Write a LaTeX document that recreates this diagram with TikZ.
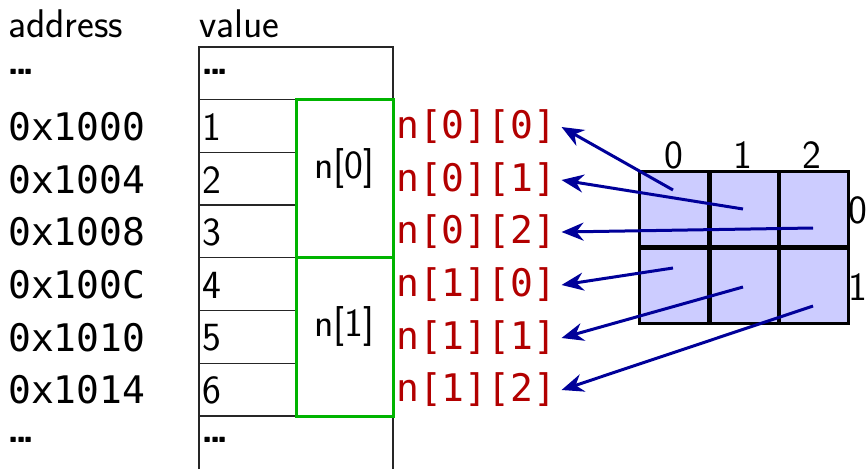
\documentclass[tikz,border=0pt]{standalone}
\usepackage{fontspec}
\setmonofont{DejaVu Sans Mono}
\usetikzlibrary{arrows.meta}
\definecolor{myred}{RGB}{178,0,0}
\definecolor{mygreen}{RGB}{0,180,0}
\definecolor{myblue}{RGB}{0,0,153}
\definecolor{cellfill}{RGB}{204,204,255}
\newcommand{\tightdots}{\textbf{.\kern-0.11em.\kern-0.11em.}}
\begin{document}
\begin{tikzpicture}[x=1pt,y=-1pt,
  sf/.style={font=\fontsize{40}{48}\selectfont\sffamily, inner sep=0pt},
  addr/.style={font=\fontsize{38}{46}\selectfont\ttfamily, inner sep=0pt, anchor=west},
  val/.style={sf, anchor=west},
  elem/.style={font=\fontsize{38}{46}\selectfont\ttfamily, text=myred, inner sep=0pt, anchor=west},
  grp/.style={draw=mygreen, line width=3pt},
  memline/.style={draw=black!85, line width=1.3pt},
  cell/.style={fill=cellfill, minimum width=69.3pt, minimum height=75.5pt, inner sep=0pt},
  ptr/.style={draw=myblue, line width=3pt, -{Stealth[length=22pt,width=18pt]}}
]
\useasboundingbox (0,0) rectangle (866,469);
% headers
\node[val] (haddr) at (8,24) {address};
\node[val] (hval) at (199,24) {value};
% memory column
\draw[memline] (199,469) -- (199,47) -- (393,47) -- (393,469);
\foreach \y in {99.7,152.4,205.1,257.8,310.5,363.2,416} {
  \draw[memline] (199,\y) -- (296,\y);
}
\draw[memline] (296,99.7) -- (393,99.7);
\draw[memline] (296,416) -- (393,416);
% address and value texts
\node[val] (adots1) at (7,72) {\tightdots};
\node[val] (vdots1) at (201,72) {\tightdots};
\node[addr] (a0) at (8,127) {0x1000};
\node[addr] (a1) at (8,180) {0x1004};
\node[addr] (a2) at (8,232) {0x1008};
\node[addr] (a3) at (8,285) {0x100C};
\node[addr] (a4) at (8,338) {0x1010};
\node[addr] (a5) at (8,390) {0x1014};
\node[val] (adots2) at (7,440) {\tightdots};
\node[val] (v0) at (202,127) {1};
\node[val] (v1) at (202,180) {2};
\node[val] (v2) at (202,232) {3};
\node[val] (v3) at (202,285) {4};
\node[val] (v4) at (202,338) {5};
\node[val] (v5) at (202,390) {6};
\node[val] (vdots2) at (201,440) {\tightdots};
% green groups
\draw[grp] (296,99.7) rectangle (393,257.8);
\draw[grp] (296,257.8) rectangle (393,416);
\node[sf] (g0) at (344,168) {n[0]};
\node[sf] (g1) at (344,326) {n[1]};
% red element labels
\node[elem] (l00) at (396,127) {n[0][0]};
\node[elem] (l01) at (396,180) {n[0][1]};
\node[elem] (l02) at (396,232) {n[0][2]};
\node[elem] (l10) at (396,285) {n[1][0]};
\node[elem] (l11) at (396,338) {n[1][1]};
\node[elem] (l12) at (396,390) {n[1][2]};
% grid
\node[cell] (c00) at (674.65,209.75) {};
\node[cell] (c01) at (743.95,209.75) {};
\node[cell] (c02) at (813.35,209.75) {};
\node[cell] (c10) at (674.65,285.25) {};
\node[cell] (c11) at (743.95,285.25) {};
\node[cell] (c12) at (813.35,285.25) {};
\draw[line width=3pt] (c00.north west) rectangle (c12.south east);
\draw[line width=4.5pt] (c00.north east) -- (c10.south east);
\draw[line width=4.5pt] (c01.north east) -- (c11.south east);
\draw[line width=4.5pt] (c00.south west) -- (c02.south east);
\node[sf] (col0) at (674,155) {0};
\node[sf] (col1) at (743,155) {1};
\node[sf] (col2) at (812,155) {2};
\node[sf, anchor=west] (row0) at (848,210) {0};
\node[sf, anchor=west] (row1) at (848,287) {1};
% pointers
\coordinate (s00) at (673,190);
\coordinate (s01) at (743,209);
\coordinate (s02) at (813,228);
\coordinate (s10) at (673,268);
\coordinate (s11) at (743,287);
\coordinate (s12) at (813,306);
\draw[ptr] (s00) -- ([xshift=5pt]l00.east);
\draw[ptr] (s01) -- ([xshift=5pt]l01.east);
\draw[ptr] (s02) -- ([xshift=5pt]l02.east);
\draw[ptr] (s10) -- ([xshift=5pt]l10.east);
\draw[ptr] (s11) -- ([xshift=5pt]l11.east);
\draw[ptr] (s12) -- ([xshift=5pt]l12.east);
\end{tikzpicture}
\end{document}
